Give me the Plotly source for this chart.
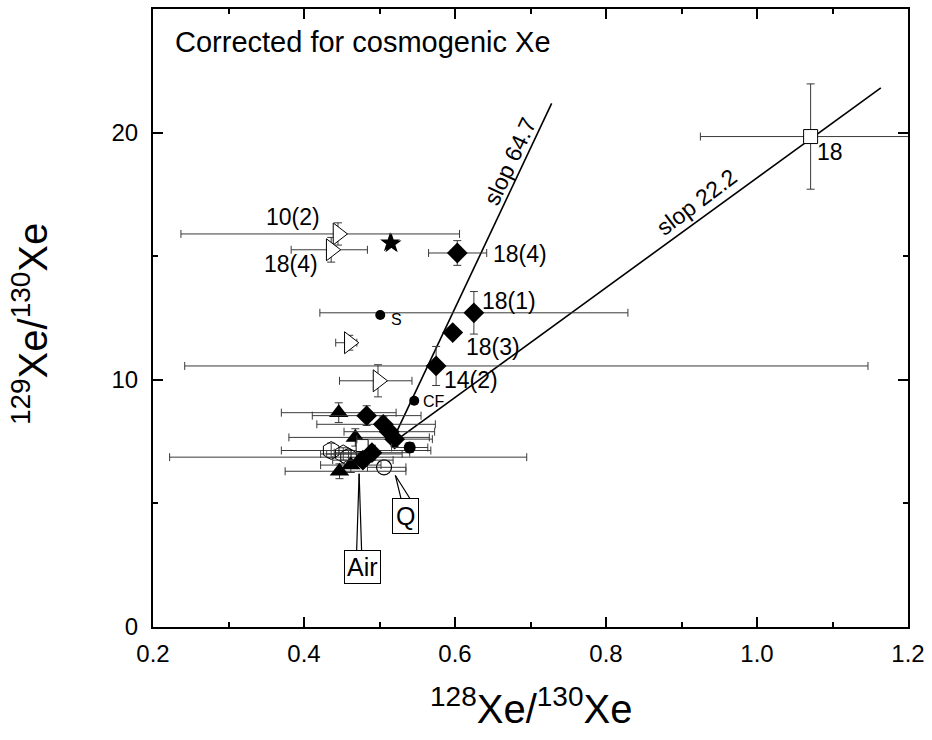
import plotly.graph_objects as go

# ---------------- data ----------------
# filled diamonds with error bars
dia_x = [0.603, 0.625, 0.575, 0.483, 0.505, 0.513, 0.520, 0.490, 0.478]
dia_y = [15.13, 12.71, 10.56, 8.55, 8.20, 7.90, 7.60, 7.05, 6.75]
dia_exm = [0.038, 0.204, 0.333, 0.072, 0.088, 0.060, 0.050, 0.050, 0.040]
dia_exp = [0.039, 0.204, 0.572, 0.072, 0.069, 0.060, 0.050, 0.050, 0.040]
dia_ey = [0.50, 0.86, 0.79, 0.40, 0.30, 0.30, 0.30, 0.30, 0.25]
# filled diamond without error bars (18(3))
dia2_x = [0.597]
dia2_y = [11.91]

# open right-pointing triangles
tri_x = [0.445, 0.436, 0.460, 0.498]
tri_y = [15.90, 15.26, 11.50, 9.96]
tri_exm = [0.208, 0.053, 0.018, 0.051]
tri_exp = [0.161, 0.048, 0.010, 0.045]
tri_ey = [0.45, 0.50, 0.30, 0.65]

# filled up triangles
up_x = [0.446, 0.468, 0.447, 0.462, 0.480]
up_y = [8.67, 7.67, 6.30, 6.55, 7.00]
up_exm = [0.076, 0.088, 0.072, 0.040, 0.050]
up_exp = [0.076, 0.098, 0.088, 0.040, 0.050]
up_ey = [0.40, 0.35, 0.30, 0.30, 0.30]

# open hexagons
hex_x = [0.436, 0.459, 0.452]
hex_y = [7.14, 6.87, 7.00]
hex_exm = [0.066, 0.237, 0.030]
hex_exp = [0.132, 0.236, 0.030]
hex_ey = [0.30, 0.30, 0.25]

# filled circles: S and CF (no error bars), and one with error bars
dot_x = [0.501, 0.546]
dot_y = [12.62, 9.15]
dot2_x = [0.540]
dot2_y = [7.26]
dot2_ex = [0.024]
dot2_ey = [0.20]

# open circle (Q)
q_x = [0.506]
q_y = [6.46]
q_exm = [0.022]
q_exp = [0.029]

# open squares
sq_x = [1.071]
sq_y = [19.84]
sq_ex = [0.146]
sq_ey = [2.13]
sq2_x = [0.477]
sq2_y = [7.34]

# stars
star_x = [0.514, 0.516]
star_y = [15.54, 15.50]

# correlation lines
line_x0 = 0.515
line_y0 = 7.40
line_slopes = [64.7, 22.2]
line_xend = [0.728, 1.164]
line_labels = ["slop 64.7", "slop 22.2"]
line_label_x = [0.672, 0.920]
line_label_y = [18.83, 17.19]
line_label_angle = [-65, -37]

# point labels
lab_text = ["10(2)", "18(4)", "18(4)", "18(1)", "18(3)", "14(2)", "18"]
lab_x = [0.385, 0.383, 0.686, 0.672, 0.650, 0.621, 1.097]
lab_y = [16.60, 14.67, 15.10, 13.19, 11.34, 10.00, 19.23]
small_text = ["S", "CF"]
small_x = [0.522, 0.5725]
small_y = [12.45, 9.13]

air_x, air_y = 0.473, 6.20
q_tip_x, q_tip_y = 0.521, 6.13

# ---------------- figure ----------------
EC = "#3a3a3a"
FONT = "Liberation Sans, Arial, sans-serif"

def err(arr_p, arr_m=None):
    d = dict(type="data", array=arr_p, color=EC, thickness=1, width=4, visible=True)
    if arr_m is not None:
        d["symmetric"] = False
        d["arrayminus"] = arr_m
    return d

fig = go.Figure()

for s, xe in zip(line_slopes, line_xend):
    fig.add_trace(go.Scatter(x=[line_x0, xe], y=[line_y0, line_y0 + s * (xe - line_x0)],
                             mode="lines", line=dict(color="black", width=1.6),
                             showlegend=False, hoverinfo="skip"))

fig.add_trace(go.Scatter(x=hex_x, y=hex_y, mode="markers",
                         marker=dict(symbol="hexagon-open", size=18, color="black", line=dict(width=1)),
                         error_x=err(hex_exp, hex_exm), error_y=err(hex_ey), showlegend=False))
fig.add_trace(go.Scatter(x=q_x, y=q_y, mode="markers",
                         marker=dict(symbol="circle-open", size=15, color="black", line=dict(width=1.2)),
                         error_x=err(q_exp, q_exm), showlegend=False))
fig.add_trace(go.Scatter(x=sq_x, y=sq_y, mode="markers",
                         marker=dict(symbol="square", size=14, color="white", line=dict(width=1, color="black")),
                         error_x=err(sq_ex), error_y=err(sq_ey), showlegend=False))
fig.add_trace(go.Scatter(x=tri_x, y=tri_y, mode="markers",
                         marker=dict(symbol="triangle-right", size=19, color="white", line=dict(width=1, color="black")),
                         error_x=err(tri_exp, tri_exm), error_y=err(tri_ey), showlegend=False))
fig.add_trace(go.Scatter(x=up_x, y=up_y, mode="markers",
                         marker=dict(symbol="triangle-up", size=17, color="black"),
                         error_x=err(up_exp, up_exm), error_y=err(up_ey), showlegend=False))
fig.add_trace(go.Scatter(x=sq2_x, y=sq2_y, mode="markers",
                         marker=dict(symbol="square", size=12, color="white", line=dict(width=1, color="black")),
                         showlegend=False))
fig.add_trace(go.Scatter(x=dia_x, y=dia_y, mode="markers",
                         marker=dict(symbol="diamond", size=16, color="black"),
                         error_x=err(dia_exp, dia_exm), error_y=err(dia_ey), showlegend=False))
fig.add_trace(go.Scatter(x=dia2_x, y=dia2_y, mode="markers",
                         marker=dict(symbol="diamond", size=16, color="black"), showlegend=False))
fig.add_trace(go.Scatter(x=dot2_x, y=dot2_y, mode="markers",
                         marker=dict(symbol="circle", size=12, color="black"),
                         error_x=err(dot2_ex), error_y=err(dot2_ey), showlegend=False))
fig.add_trace(go.Scatter(x=dot_x, y=dot_y, mode="markers",
                         marker=dict(symbol="circle", size=10, color="black"), showlegend=False))
fig.add_trace(go.Scatter(x=star_x, y=star_y, mode="markers",
                         marker=dict(symbol="star", size=15, color="black"), showlegend=False))

ann = []
for t, x, y, a in zip(line_labels, line_label_x, line_label_y, line_label_angle):
    ann.append(dict(x=x, y=y, text=t, showarrow=False, textangle=a,
                    font=dict(size=23, family=FONT, color="black")))
for t, x, y in zip(lab_text, lab_x, lab_y):
    ann.append(dict(x=x, y=y, text=t, showarrow=False,
                    font=dict(size=23, family=FONT, color="black")))
for t, x, y in zip(small_text, small_x, small_y):
    ann.append(dict(x=x, y=y, text=t, showarrow=False,
                    font=dict(size=16, family=FONT, color="black")))

# Air and Q callouts: a second plain pointer line first, then the boxed label on top
ann.append(dict(x=air_x, y=air_y, text=" ", showarrow=True, arrowhead=0, arrowwidth=1.2,
                arrowcolor="black", ax=-3, ay=93, font=dict(size=2, color="white")))
ann.append(dict(x=air_x, y=air_y, text="Air", showarrow=True, arrowhead=0, arrowwidth=1.2,
                arrowcolor="black", ax=3, ay=93, bordercolor="black", borderwidth=1, borderpad=2,
                bgcolor="white", font=dict(size=25, family=FONT, color="black")))
ann.append(dict(x=q_tip_x, y=q_tip_y, text=" ", showarrow=True, arrowhead=0, arrowwidth=1.2,
                arrowcolor="black", ax=19, ay=30, font=dict(size=2, color="white")))
ann.append(dict(x=q_tip_x, y=q_tip_y, text="Q", showarrow=True, arrowhead=0, arrowwidth=1.2,
                arrowcolor="black", ax=10, ay=41, bordercolor="black", borderwidth=1, borderpad=3,
                bgcolor="white", font=dict(size=25, family=FONT, color="black")))

ann.append(dict(xref="paper", yref="paper", x=0.027, y=0.947, xanchor="left", yanchor="middle",
                text="Corrected for cosmogenic Xe", showarrow=False,
                font=dict(size=29, family=FONT, color="black")))
ann.append(dict(xref="paper", yref="paper", x=0.5, y=-0.128, xanchor="center", yanchor="middle",
                text="<sup>128</sup>Xe/<sup>130</sup>Xe", showarrow=False,
                font=dict(size=40, family=FONT, color="black")))
ann.append(dict(xref="paper", yref="paper", x=-0.163, y=0.49, xanchor="center", yanchor="middle",
                text="<sup>129</sup>Xe/<sup>130</sup>Xe", showarrow=False, textangle=-90,
                font=dict(size=40, family=FONT, color="black")))

axis_common = dict(showgrid=False, zeroline=False, showline=True, linecolor="black", linewidth=2,
                   mirror="ticks", ticks="inside", ticklen=10, tickwidth=1.5, tickcolor="black",
                   tickfont=dict(size=24, family=FONT, color="black"))

fig.update_layout(
    width=932, height=740,
    margin=dict(l=153, r=22, t=7, b=113),
    paper_bgcolor="white", plot_bgcolor="white",
    xaxis=dict(range=[0.2, 1.2], dtick=0.2, tick0=0.2, tickformat=".1f", ticklabelstandoff=4,
               minor=dict(dtick=0.1, ticks="inside", ticklen=5, tickcolor="black"), **axis_common),
    yaxis=dict(range=[0, 25], dtick=10, tick0=0, ticklabelstandoff=8,
               minor=dict(dtick=5, ticks="inside", ticklen=5, tickcolor="black"), **axis_common),
    annotations=ann,
)

fig.write_html("out.html")
